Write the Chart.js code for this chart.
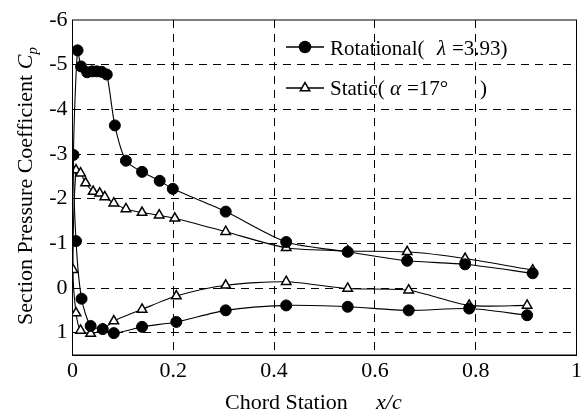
<!DOCTYPE html>
<html>
<head>
<meta charset="utf-8">
<script src="https://cdn.jsdelivr.net/npm/chart.js@4.4.1/dist/chart.umd.min.js"></script>
<style>
  html, body { margin: 0; padding: 0; background: #fff; }
  #wrap { width: 585px; height: 416px; }
</style>
</head>
<body>
<div id="wrap"><canvas id="cpChart" width="585" height="416"></canvas></div>
<script>
// --- datos (x/c, Cp) ---
// Rotational: intrados desde el borde de salida hasta el borde de ataque, luego extrados
const rotX  = [0.902, 0.787, 0.667, 0.546, 0.424, 0.304, 0.206, 0.138, 0.082, 0.060,
               0.036, 0.018, 0.007, 0.002, 0.010, 0.017, 0.029, 0.039, 0.048, 0.058,
               0.068, 0.084, 0.106, 0.138, 0.173, 0.199, 0.304, 0.424, 0.546, 0.664,
               0.779, 0.913];
const rotCp = [0.61, 0.46, 0.50, 0.42, 0.39, 0.50, 0.76, 0.87, 1.01, 0.92,
               0.85, 0.24, -1.05, -2.98, -5.32, -4.96, -4.83, -4.85, -4.85, -4.84,
               -4.78, -3.64, -2.85, -2.60, -2.40, -2.22, -1.71, -1.03, -0.81, -0.61,
               -0.53, -0.33];

// Static
const stX  = [0.902, 0.787, 0.667, 0.546, 0.424, 0.304, 0.206, 0.138, 0.082, 0.060,
              0.036, 0.016, 0.007, 0.001, 0.007, 0.016, 0.026, 0.041, 0.054, 0.064,
              0.082, 0.106, 0.138, 0.172, 0.203, 0.304, 0.424, 0.546, 0.664, 0.779,
              0.913];
const stCp = [0.39, 0.39, 0.05, 0.01, -0.14, -0.06, 0.18, 0.48, 0.74, 0.93,
              1.02, 0.95, 0.56, -0.41, -2.64, -2.57, -2.35, -2.16, -2.12, -2.04,
              -1.90, -1.77, -1.69, -1.63, -1.56, -1.26, -0.90, -0.83, -0.81, -0.66,
              -0.40];

const xTicks = [0, 0.2, 0.4, 0.6, 0.8, 1];
const xTickLabels = ['0', '0.2', '0.4', '0.6', '0.8', '1'];
const yTicks = [-6, -5, -4, -3, -2, -1, 0, 1];
const yTickLabels = ['-6', '-5', '-4', '-3', '-2', '-1', '0', '1'];

const SERIF = '"Liberation Serif", "Times New Roman", serif';

function toPoints(xs, ys) {
    return xs.map((x, i) => ({ x: x, y: ys[i] }));
}

// lineas de la reticula: discontinuas salvo en los bordes del marco
function gridColor(ctx, edges) {
    const v = ctx.tick ? ctx.tick.value : null;
    return edges.includes(v) ? 'rgba(0,0,0,0)' : '#000';
}

// texto con trozos en cursiva
function drawRuns(ctx, runs, x, y) {
    let cx = x;
    runs.forEach(r => {
        ctx.font = (r.italic ? 'italic ' : '') + (r.size || 22) + 'px ' + SERIF;
        ctx.fillText(r.t, cx, y + (r.dy || 0));
        cx += ctx.measureText(r.t).width;
    });
}

function runsWidth(ctx, runs) {
    let w = 0;
    runs.forEach(r => {
        ctx.font = (r.italic ? 'italic ' : '') + (r.size || 22) + 'px ' + SERIF;
        w += ctx.measureText(r.t).width;
    });
    return w;
}

const decorPlugin = {
    id: 'decor',
    beforeDraw(chart) {
        const ctx = chart.ctx;
        ctx.save();
        ctx.fillStyle = '#fff';
        ctx.fillRect(0, 0, chart.width, chart.height);
        ctx.restore();
    },
    afterDraw(chart) {
        const { ctx, chartArea: a } = chart;
        ctx.save();
        // marco
        ctx.strokeStyle = '#000';
        ctx.lineWidth = 1;
        ctx.setLineDash([]);
        ctx.strokeRect(a.left, a.top, a.right - a.left, a.bottom - a.top);

        ctx.fillStyle = '#000';
        ctx.textBaseline = 'alphabetic';
        ctx.textAlign = 'left';

        // leyenda
        ctx.lineWidth = 1.5;
        ctx.beginPath(); ctx.moveTo(286, 47); ctx.lineTo(324, 47); ctx.stroke();
        ctx.beginPath(); ctx.moveTo(286, 88); ctx.lineTo(324, 88); ctx.stroke();
        ctx.fillStyle = '#000';
        Chart.helpers.drawPoint(ctx, { pointStyle: 'circle', radius: 5.5, borderWidth: 1 }, 305, 47);
        ctx.fillStyle = '#fff';
        Chart.helpers.drawPoint(ctx, { pointStyle: 'triangle', radius: 5.5, borderWidth: 1.5 }, 305, 88);
        ctx.fillStyle = '#000';

        ctx.font = '21px ' + SERIF;
        ctx.fillText('Rotational(', 330, 55);
        ctx.font = 'italic 21px ' + SERIF;
        ctx.fillText('\u03BB', 437, 55);
        ctx.font = '21px ' + SERIF;
        ctx.fillText('=3.93)', 452, 55);

        ctx.fillText('Static(', 330, 95);
        ctx.font = 'italic 21px ' + SERIF;
        ctx.fillText('\u03B1', 390, 95);
        ctx.font = '21px ' + SERIF;
        ctx.fillText('=17\u00B0', 407, 95);
        ctx.fillText(')', 480, 95);

        // titulo eje x
        ctx.font = '22px ' + SERIF;
        ctx.fillText('Chord Station', 225, 409);
        ctx.font = 'italic 22px ' + SERIF;
        ctx.fillText('x/c', 376, 409);

        // titulo eje y (rotado)
        const runs = [
            { t: 'Section Pressure Coefficient ' },
            { t: 'C', italic: true },
            { t: 'p', italic: true, size: 15, dy: 5 }
        ];
        ctx.translate(32, 186);
        ctx.rotate(-Math.PI / 2);
        const w = runsWidth(ctx, runs);
        drawRuns(ctx, runs, -w / 2, 0);
        ctx.restore();
    }
};

const ctxEl = document.getElementById('cpChart');

new Chart(ctxEl, {
    type: 'scatter',
    data: {
        datasets: [
            {
                label: 'Rotational',
                data: toPoints(rotX, rotCp),
                showLine: true,
                borderColor: '#000',
                borderWidth: 1.1,
                tension: 0.25,
                pointStyle: 'circle',
                pointRadius: 5.5,
                pointBackgroundColor: '#000',
                pointBorderColor: '#000',
                pointBorderWidth: 1
            },
            {
                label: 'Static',
                data: toPoints(stX, stCp),
                showLine: true,
                borderColor: '#000',
                borderWidth: 1.1,
                tension: 0.25,
                pointStyle: 'triangle',
                pointRadius: 5.5,
                pointBackgroundColor: '#fff',
                pointBorderColor: '#000',
                pointBorderWidth: 1.5
            }
        ]
    },
    options: {
        responsive: false,
        animation: false,
        layout: { padding: { top: 20, right: 6, left: 0, bottom: 0 } },
        plugins: {
            legend: { display: false },
            tooltip: { enabled: false }
        },
        scales: {
            x: {
                type: 'linear',
                min: 0,
                max: 1,
                afterBuildTicks: s => { s.ticks = xTicks.map(v => ({ value: v })); },
                afterFit: s => { s.height = 61; },
                ticks: {
                    color: '#000',
                    font: { family: SERIF, size: 22 },
                    padding: 3,
                    maxRotation: 0,
                    autoSkip: false,
                    callback: (v) => xTickLabels[xTicks.indexOf(v)]
                },
                grid: {
                    drawTicks: false,
                    color: c => gridColor(c, [0, 1]),
                    lineWidth: 1
                },
                border: { display: true, color: '#000', width: 1, dash: [8, 6] }
            },
            y: {
                type: 'linear',
                reverse: true,
                min: -6,
                max: 1.5,
                afterBuildTicks: s => { s.ticks = yTicks.map(v => ({ value: v })); },
                afterFit: s => { s.width = 72.5; },
                ticks: {
                    color: '#000',
                    font: { family: SERIF, size: 22 },
                    padding: 5,
                    autoSkip: false,
                    callback: (v) => yTickLabels[yTicks.indexOf(v)]
                },
                grid: {
                    drawTicks: false,
                    color: c => gridColor(c, [-6]),
                    lineWidth: 1
                },
                border: { display: true, color: '#000', width: 1, dash: [8, 6] }
            }
        }
    },
    plugins: [decorPlugin]
});
</script>
</body>
</html>
